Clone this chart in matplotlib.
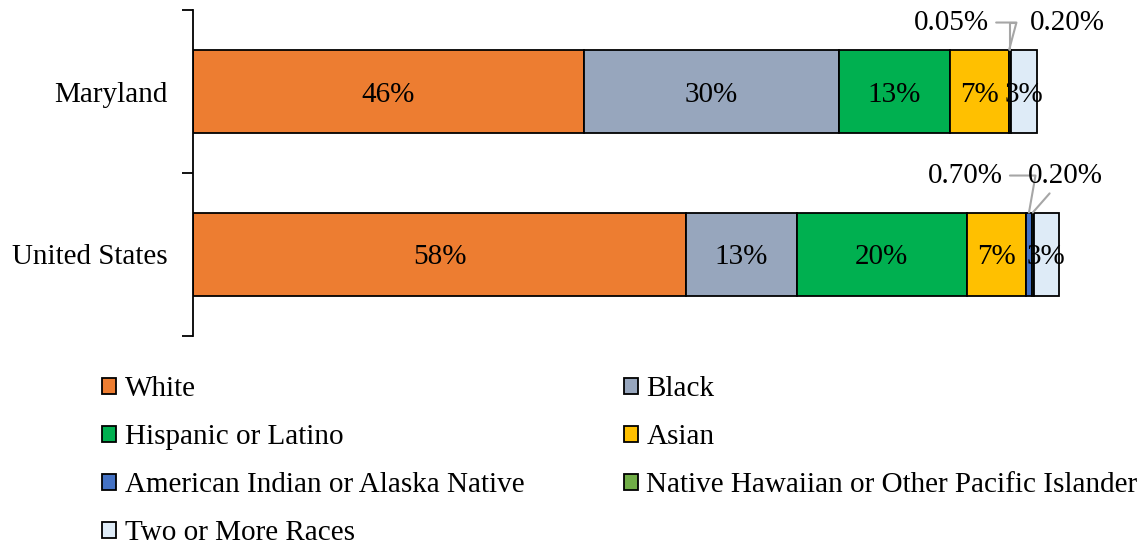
import matplotlib
matplotlib.use("Agg")
import matplotlib.pyplot as plt
from matplotlib.patches import Patch
import numpy as np

plt.rcParams['font.family'] = ['Liberation Serif', 'DejaVu Serif']

regions = ["United States", "Maryland"]
groups = ["White", "Black", "Hispanic or Latino", "Asian",
          "American Indian or Alaska Native",
          "Native Hawaiian or Other Pacific Islander", "Two or More Races"]
maryland = [46, 30, 13, 7, 0.05, 0.20, 3]
united_states = [58, 13, 20, 7, 0.70, 0.20, 3]
colors = ["#ED7D31", "#97A6BD", "#00B050", "#FFC000", "#4472C4", "#70AD47", "#DEEBF7"]

values = np.array([united_states, maryland])

W, H = 1147, 546
fig = plt.figure(figsize=(W / 100, H / 100), dpi=100)
ax = fig.add_axes([193 / W, 1 - 336 / H, 935 / W, 326 / H])

FS = 21
y = np.arange(len(regions))
left = np.zeros(len(regions))
for j, g in enumerate(groups):
    ax.barh(y, values[:, j], left=left, height=0.515, color=colors[j],
            edgecolor="black", linewidth=1.3, label=g)
    for i in range(len(regions)):
        v = values[i, j]
        if v >= 1:
            ax.text(left[i] + v / 2, y[i], f"{v:.0f}%", ha="center",
                    va="center_baseline", fontsize=FS, color="black")
    left = left + values[:, j]

ax.set_xlim(0, 110)
ax.set_ylim(-0.5, 1.5)
for s in ["top", "right", "bottom"]:
    ax.spines[s].set_visible(False)
ax.spines["left"].set_linewidth(1.3)
ax.set_xticks([])
ax.set_yticks(y)
ax.set_yticklabels(regions, fontsize=FS)
ax.tick_params(axis="y", which="major", length=0, pad=18)
ax.set_yticks([-0.5, 0.5, 1.5], minor=True)
ax.tick_params(axis="y", which="minor", length=8, width=1.3)

# leader-line labels for small segments
gray = "#A6A6A6"
cum = np.cumsum(values, axis=1)
def small_label(i, j, dx, dy, ha, style, shrinkA=2):
    start = cum[i, j - 1]
    xmid = start + values[i, j] / 2
    ax.annotate(f"{values[i, j]:.2f}%", xy=(xmid, y[i] + 0.2575), xycoords="data",
                xytext=(dx, dy), textcoords="offset pixels", ha=ha, va="center",
                fontsize=FS,
                arrowprops=dict(arrowstyle="-", color=gray, lw=1.5,
                                shrinkA=shrinkA, shrinkB=0,
                                connectionstyle=style))

# Maryland (index 1)
small_label(1, 4, -20, 27, "right", "angle,angleA=0,angleB=75,rad=0", 3)
small_label(1, 5, 20, 27, "left", "angle,angleA=180,angleB=90,rad=0", 8)
# United States (index 0)
small_label(0, 4, -26, 37, "right", "angle,angleA=0,angleB=80,rad=0", 3)
small_label(0, 5, -5, 37, "left", "arc3,rad=0", 2)

handles = [Patch(facecolor=c, edgecolor="black", linewidth=1.3) for c in colors]
order = [0, 2, 4, 6, 1, 3, 5]
fig.legend([handles[k] for k in order], [groups[k] for k in order],
           loc="upper left", bbox_to_anchor=(102 / W, 1 - 376 / H), ncol=2,
           frameon=False, fontsize=FS, handlelength=0.48, handleheight=0.48,
           handletextpad=0.3, labelspacing=0.76, columnspacing=3.4,
           borderaxespad=0, borderpad=0)

fig.savefig("out.png", dpi=100)
